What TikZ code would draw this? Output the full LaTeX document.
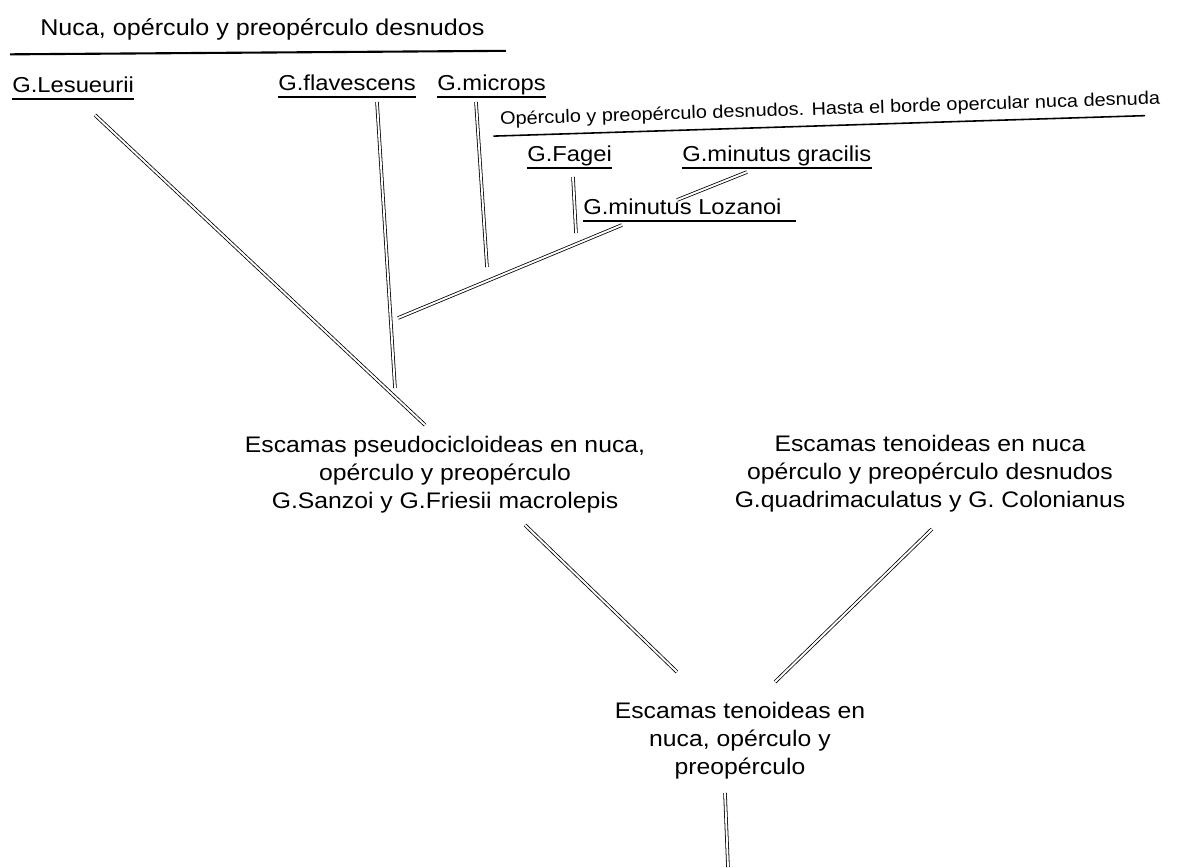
\documentclass[tikz,border=0pt]{standalone}
\usepackage{fontspec}
\setmainfont{Liberation Sans}[FakeStretch=1.1]

\tikzset{
  dline/.style={double, double distance=1.1pt, line width=0.45pt},
  uline/.style={line width=0.9pt},
  taxon/.style={font=\fontsize{12.3}{14}\selectfont, inner sep=0pt, anchor=base west},
  note/.style={font=\fontsize{12.8}{15.9}\selectfont, inner sep=0pt, align=center},
}

\begin{document}
\begin{tikzpicture}[x=0.02cm, y=-0.02cm]
    \useasboundingbox (0,0) rectangle (1188,867);

    % these are the headings
    \node[anchor=base west, inner sep=0pt, font=\fontsize{13}{15}\selectfont] (nuca) at (40,35) {Nuca, opérculo y preopérculo desnudos};
    \draw[uline, line width=1.2pt] ([xshift=-17pt, yshift=-11pt]nuca.base west) -- ([xshift=12pt, yshift=-9pt]nuca.base east);

    \node[anchor=base west, inner sep=0pt, text depth=0.6em, rotate=1.8, font=\fontsize{10.3}{12}\selectfont] (opdesn) at (500,125) {Opérculo y preopérculo desnudos. Hasta el borde opercular nuca desnuda};
    \draw[uline, shorten <=-4pt, shorten >=9pt] (opdesn.south west) -- (opdesn.south east);

    % these are the species
    \node[taxon] (lesueurii) at (12,92) {G.Lesueurii};
    \node[taxon] (flavescens) at (278,90) {G.flavescens};
    \node[taxon] (microps) at (437,90) {G.microps};
    \node[taxon] (fagei) at (527,161) {G.Fagei};
    \node[taxon] (gracilis) at (682,161) {G.minutus gracilis};
    \node[taxon] (lozanoi) at (583,214) {G.minutus Lozanoi};

    \draw[uline] ([yshift=-4pt]lesueurii.base west) -- ([yshift=-4pt]lesueurii.base east);
    \draw[uline] ([yshift=-4pt]flavescens.base west) -- ([yshift=-4pt]flavescens.base east);
    \draw[uline] ([yshift=-4pt]microps.base west) -- ([yshift=-4pt]microps.base east);
    \draw[uline] ([yshift=-4pt]fagei.base west) -- ([yshift=-4pt]fagei.base east);
    \draw[uline] ([yshift=-4pt]gracilis.base west) -- ([yshift=-4pt]gracilis.base east);
    \draw[uline] ([yshift=-4pt]lozanoi.base west) -- ([xshift=8pt, yshift=-4pt]lozanoi.base east);

    % these are the groups
    \node[note] (pseudo) at (445,475) {Escamas pseudocicloideas en nuca,\\opérculo y preopérculo\\G.Sanzoi y G.Friesii macrolepis};
    \node[note] (quadri) at (930,474) {Escamas tenoideas en nuca\\opérculo y preopérculo desnudos\\G.quadrimaculatus y G. Colonianus};
    \node[note] (tenoid) at (740,741) {Escamas tenoideas en\\nuca, opérculo y\\preopérculo};

    % ends of the double lines
    \coordinate (les-top) at (95,115);
    \coordinate (les-bot) at (425,425);
    \coordinate (fla-top) at (377,102);
    \coordinate (fla-bot) at (395,388);
    \coordinate (mic-top) at (476,102);
    \coordinate (mic-bot) at (487,267);
    \coordinate (loz-bot) at (398,318);
    \coordinate (loz-top) at (622,225);
    \coordinate (fag-top) at (573,177);
    \coordinate (fag-bot) at (576,233);
    \coordinate (gra-bot) at (677,200);
    \coordinate (gra-top) at (747,172);
    \coordinate (san-top) at (525,525);
    \coordinate (san-bot) at (677,672);
    \coordinate (qua-top) at (932,529);
    \coordinate (qua-bot) at (775,682);
    \coordinate (ten-top) at (725,793);
    \coordinate (ten-bot) at (728,867);

    \draw[dline] (les-top) -- (les-bot);
    \draw[dline] (fla-top) -- (fla-bot);
    \draw[dline] (mic-top) -- (mic-bot);
    \draw[dline] (loz-bot) -- (loz-top);
    \draw[dline] (fag-top) -- (fag-bot);
    \draw[dline] (gra-bot) -- (gra-top);
    \draw[dline] (san-top) -- (san-bot);
    \draw[dline] (qua-top) -- (qua-bot);
    \draw[dline] (ten-top) -- (ten-bot);

\end{tikzpicture}
\end{document}
